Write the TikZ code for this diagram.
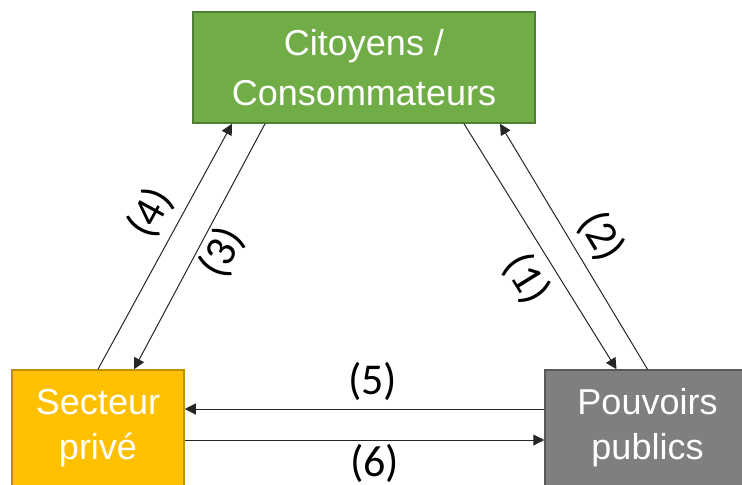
\documentclass[tikz,border=0pt]{standalone}
\usepackage{fontspec}
\setmainfont{Liberation Sans}
\newfontfamily\numfont{Carlito}
\usetikzlibrary{arrows.meta}
\definecolor{citvert}{HTML}{70AD47}
\definecolor{citvertbord}{HTML}{507E32}
\definecolor{privor}{HTML}{FFC000}
\definecolor{privorbord}{HTML}{BF9000}
\definecolor{pubgris}{HTML}{7F7F7F}
\definecolor{pubgrisbord}{HTML}{595959}
\begin{document}
\begin{tikzpicture}[x=0.5pt,y=0.5pt,>={Triangle[length=5.5pt,width=5.5pt]},
  boite/.style={draw,line width=0.75pt,text=white,align=center,inner sep=0pt},
  lien/.style={line width=0.5pt,draw=black!85},
  num/.style={font=\numfont\fontsize{22}{24}\selectfont,inner sep=1pt}]
\useasboundingbox (0,0) rectangle (742,-484);
\clip (0,0) rectangle (742,-484);

\node[boite,fill=citvert,draw=citvertbord,minimum width=171pt,minimum height=55.5pt,
  font=\fontsize{18}{25}\selectfont] (citoyens) at (364,-67.5) {Citoyens /\\Consommateurs};
\node[boite,fill=privor,draw=privorbord,minimum width=86pt,minimum height=58pt,
  font=\fontsize{18}{22.5}\selectfont] (prive) at (98,-428) {Secteur\\priv\'e};
\node[boite,fill=pubgris,draw=pubgrisbord,minimum width=102.5pt,minimum height=58pt,
  font=\fontsize{18}{22.5}\selectfont] (pouvoirs) at (647.5,-428) {Pouvoirs\\publics};

\draw[lien,->] ([xshift=50pt]citoyens.south) -- ([xshift=-15.5pt]pouvoirs.north)
  node[num,pos=0.57,sloped,below=3.5pt] {(1)};
\draw[lien,->] (pouvoirs.north) -- ([xshift=68pt]citoyens.south)
  node[num,pos=0.48,sloped,above=3.5pt] {(2)};
\draw[lien,<-] ([xshift=18pt]prive.north) -- ([xshift=-49.5pt]citoyens.south)
  node[num,pos=0.52,sloped,below=0.5pt] {(3)};
\draw[lien,->] (prive.north) -- ([xshift=-66pt]citoyens.south)
  node[num,pos=0.58,sloped,above=3.5pt] {(4)};
\draw[lien,->] ([yshift=9.5pt]pouvoirs.west) -- ([yshift=9.5pt]prive.east)
  node[num,midway,above=3pt,xshift=4pt] {(5)};
\draw[lien,->] ([yshift=-6pt]prive.east) -- ([yshift=-6pt]pouvoirs.west)
  node[num,midway,below=1pt,xshift=5pt] {(6)};
\end{tikzpicture}
\end{document}
